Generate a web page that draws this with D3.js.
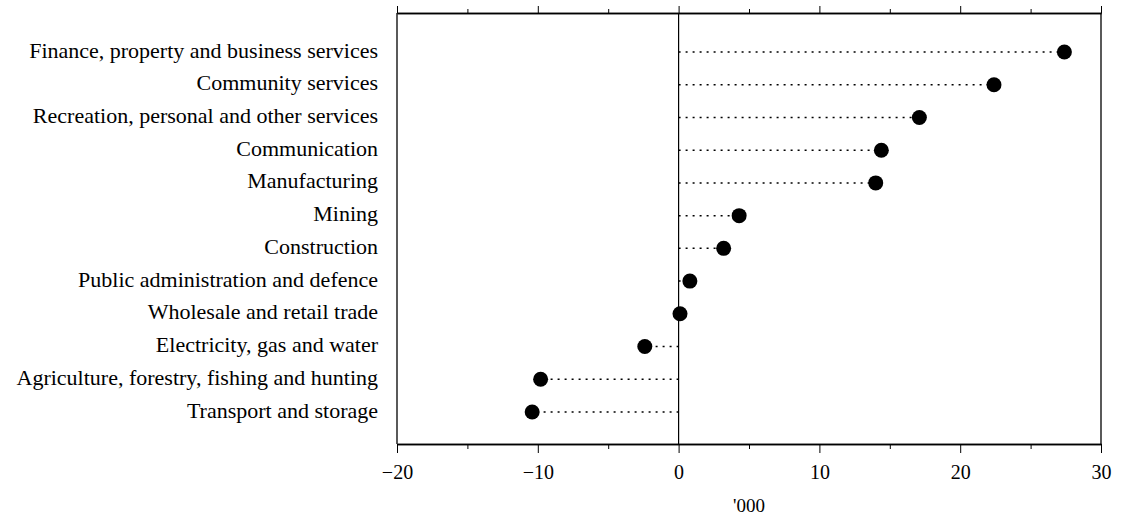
<!DOCTYPE html>
<html><head><meta charset="utf-8">
<script src="https://cdn.jsdelivr.net/npm/d3@7"></script>
<style>
body{margin:0;background:#fff;}
svg{display:block;}
text{font-family:"Liberation Serif","Times New Roman",serif;fill:#000;}
</style></head>
<body><svg id="c" width="1129" height="521"></svg>
<script>
const categories = ["Finance, property and business services","Community services","Recreation, personal and other services","Communication","Manufacturing","Mining","Construction","Public administration and defence","Wholesale and retail trade","Electricity, gas and water","Agriculture, forestry, fishing and hunting","Transport and storage"];
const values = [27.4, 22.4, 17.1, 14.4, 14.0, 4.3, 3.2, 0.8, 0.1, -2.4, -9.8, -10.4];
const majorTicks = [-20, -10, 0, 10, 20, 30];
const minorTicks = [-15, -5, 5, 15, 25];
const axisTitle = "'000";

const svg = d3.select("#c");
const pL = 397, pR = 1101, pT = 13, pB = 444;
const x = d3.scaleLinear().domain([-20, 30]).range([pL, pR]);
const y = d3.scalePoint().domain(categories).range([52, 412]);

// frame
svg.append("line").attr("x1", pL).attr("x2", pL).attr("y1", pT).attr("y2", pB).attr("stroke", "#000").attr("stroke-width", 1.3);
svg.append("line").attr("x1", pR).attr("x2", pR).attr("y1", pT).attr("y2", pB).attr("stroke", "#000").attr("stroke-width", 1.3);
svg.append("line").attr("x1", x(0)).attr("x2", x(0)).attr("y1", pT).attr("y2", pB).attr("stroke", "#000").attr("stroke-width", 1.2);

// bottom axis
const gb = svg.append("g").attr("transform", `translate(0,${pB})`)
  .call(d3.axisBottom(x).tickValues(majorTicks).tickSize(9).tickSizeOuter(0).tickPadding(12).tickFormat(d => d < 0 ? "\u2212" + Math.abs(d) : d));
gb.append("g").call(d3.axisBottom(x).tickValues(minorTicks).tickSize(5).tickSizeOuter(0).tickFormat(""));
gb.selectAll("path.domain").attr("stroke-width", 1.4);
gb.attr("font-family", null).attr("font-size", null);
gb.selectAll(".tick text").style("font-size", "20px").style("font-family", "'Liberation Serif', serif");

// top axis
const gt = svg.append("g").attr("transform", `translate(0,${pT})`)
  .call(d3.axisTop(x).tickValues(majorTicks).tickSize(7).tickSizeOuter(0).tickFormat(""));
gt.append("g").call(d3.axisTop(x).tickValues(minorTicks).tickSize(4).tickSizeOuter(0).tickFormat(""));
gt.selectAll("path.domain").attr("stroke-width", 1.4);

svg.append("text").attr("x", (pL + pR) / 2).attr("y", 512).attr("text-anchor", "middle").style("font-size", "19px").text(axisTitle);

// category labels
svg.append("g").selectAll("text").data(categories).join("text")
  .attr("x", 378).attr("y", d => y(d)).attr("dy", "0.25em").attr("text-anchor", "end")
  .style("font-size", "22px").text(d => d);

// dotted lines
svg.append("g").selectAll("line").data(values).join("line")
  .attr("x1", x(0)).attr("x2", d => x(d))
  .attr("y1", (d, i) => y(categories[i])).attr("y2", (d, i) => y(categories[i]))
  .attr("stroke", "#000").attr("stroke-width", 1.5).attr("stroke-dasharray", "2,5");

// dots
svg.append("g").selectAll("circle").data(values).join("circle")
  .attr("cx", d => x(d)).attr("cy", (d, i) => y(categories[i])).attr("r", 7.5).attr("fill", "#000");
</script></body></html>
